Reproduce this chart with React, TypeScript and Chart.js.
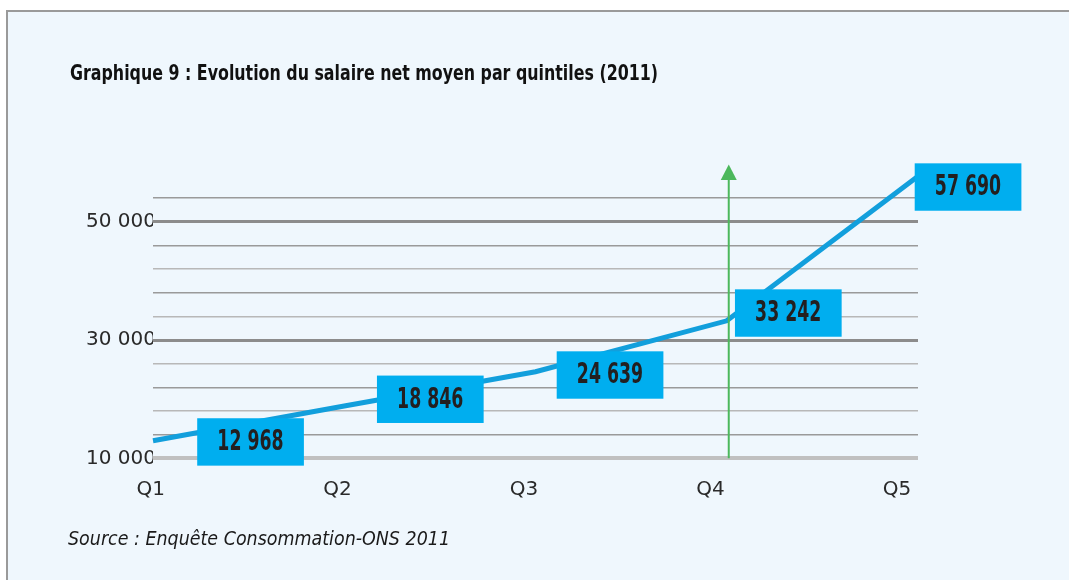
import React, { useEffect, useRef } from 'react';
import { Chart, registerables } from 'chart.js';

Chart.register(...registerables);

// ---- data ----
const xLabels = ['Q1', 'Q2', 'Q3', 'Q4', 'Q5'];
const salaries = [12968, 18846, 24639, 33242, 57690];
const yLabelValues = [10000, 30000, 50000];
const titleText = 'Graphique 9 : Evolution du salaire net moyen par quintiles (2011)';
const sourceText = 'Source : Enquête Consommation-ONS 2011';
const arrowCategory = 3; // Q4

// ---- style ----
const LABEL_OFFSETS = [
  [97.5, 1.2],
  [86, -6.7],
  [74.5, 3.3],
  [61.5, -7.8],
  [50, 10.8],
];
const CONDENSED = "'Liberation Sans Narrow', 'DejaVu Sans Condensed', 'Liberation Sans', sans-serif";
const AXIS_FONT = "'DejaVu Sans', sans-serif";
const LABEL_SQUEEZE = 0.82;

const fmt = (v: number) => String(v).replace(/\B(?=(\d{3})+(?!\d))/g, ' ');

const overlay = {
  id: 'overlay',
  afterDatasetsDraw(chart: any) {
    const ctx = chart.ctx as CanvasRenderingContext2D;
    const xs = chart.scales.x;
    const ys = chart.scales.y;
    const ca = chart.chartArea;

    ctx.save();
    ctx.font = `bold 21px ${CONDENSED}`;
    const kTitle = 588 / ctx.measureText(titleText).width;
    ctx.restore();

    // green arrow
    const ax = xs.getPixelForValue(arrowCategory) + 2;
    const bottom = ys.getPixelForValue(10000);
    const tip = ca.top - 10;
    ctx.save();
    ctx.strokeStyle = '#4cb85c';
    ctx.fillStyle = '#4cb85c';
    ctx.lineWidth = 2;
    ctx.beginPath();
    ctx.moveTo(ax, bottom);
    ctx.lineTo(ax, tip + 14);
    ctx.stroke();
    ctx.beginPath();
    ctx.moveTo(ax, tip);
    ctx.lineTo(ax - 8, tip + 15.5);
    ctx.lineTo(ax + 8, tip + 15.5);
    ctx.closePath();
    ctx.fill();
    ctx.restore();

    // value boxes
    salaries.forEach((v, i) => {
      const px = xs.getPixelForValue(i);
      const py = ys.getPixelForValue(v);
      const cx = px + LABEL_OFFSETS[i][0];
      const cy = py + LABEL_OFFSETS[i][1];
      ctx.save();
      ctx.fillStyle = '#00aeef';
      ctx.fillRect(cx - 53.3, cy - 23.7, 106.7, 47.4);
      ctx.translate(cx, cy);
      ctx.scale(kTitle * LABEL_SQUEEZE, 1);
      ctx.font = `bold 28px ${CONDENSED}`;
      ctx.fillStyle = '#231f20';
      ctx.textAlign = 'center';
      ctx.textBaseline = 'middle';
      ctx.fillText(fmt(v), 0, 1);
      ctx.restore();
    });
  },
  afterDraw(chart: any) {
    const ctx = chart.ctx as CanvasRenderingContext2D;
    ctx.save();
    ctx.fillStyle = '#111';
    ctx.textAlign = 'left';
    ctx.textBaseline = 'alphabetic';
    ctx.font = `bold 21px ${CONDENSED}`;
    const kT = 588 / ctx.measureText(titleText).width;
    ctx.save();
    ctx.translate(70, 80);
    ctx.scale(kT, 1);
    ctx.fillText(titleText, 0, 0);
    ctx.restore();

    ctx.font = `italic 19px ${CONDENSED}`;
    const kS = 382 / ctx.measureText(sourceText).width;
    ctx.save();
    ctx.translate(68, 545);
    ctx.scale(kS, 1);
    ctx.fillStyle = '#1a1a1a';
    ctx.fillText(sourceText, 0, 0);
    ctx.restore();
    ctx.restore();
  },
};

export default function App() {
  const ref = useRef<HTMLCanvasElement | null>(null);

  useEffect(() => {
    document.body.style.margin = '0';
    const canvas = ref.current;
    if (!canvas) return;
    const chart = new Chart(canvas, {
      type: 'line',
      data: {
        datasets: [
          {
            data: salaries.map((v, i) => ({ x: i, y: v })),
            borderColor: '#129fdc',
            borderWidth: 5,
            pointRadius: 0,
            tension: 0,
            clip: false as any,
            xAxisID: 'x',
            yAxisID: 'y',
          },
        ],
      },
      options: {
        animation: false,
        responsive: false,
        maintainAspectRatio: false,
        layout: { padding: { left: 0, right: 151, top: 174.4, bottom: 81.7 } },
        plugins: { legend: { display: false }, tooltip: { enabled: false }, title: { display: false } },
        scales: {
          x: { type: 'linear', min: 0, max: 4, display: false },
          x2: {
            type: 'linear',
            axis: 'x',
            position: 'bottom',
            min: 0.0115,
            max: 4.112,
            grid: { display: false, drawTicks: false },
            border: { display: false },
            afterBuildTicks: (scale: any) => {
              scale.ticks = xLabels.map((_, i) => ({ value: i }));
            },
            afterFit: (scale: any) => {
              scale.height = 40;
            },
            ticks: {
              autoSkip: false,
              maxRotation: 0,
              padding: 19,
              color: '#2a2a2a',
              font: { family: AXIS_FONT, size: 20 },
              callback: (value: any) => xLabels[Math.round(value)] ?? '',
            },
          },
          y: {
            type: 'linear',
            min: 10000,
            max: 58000,
            border: { display: false },
            afterFit: (scale: any) => {
              scale.width = 153;
            },
            grid: {
              drawTicks: false,
              color: (c: any) => {
                const v = c.tick?.value;
                if (v === 10000) return '#c0c0c0';
                if (v === 30000 || v === 50000) return '#8c8c8c';
                if (v >= 58000) return 'rgba(0,0,0,0)';
                return Math.round((v - 10000) / 4000) % 2 === 1 ? '#9a9a9a' : '#b8b8b8';
              },
              lineWidth: (c: any) => {
                const v = c.tick?.value;
                if (v === 10000) return 4;
                if (v === 30000 || v === 50000) return 3;
                return 1.5;
              },
            },
            ticks: {
              stepSize: 4000,
              autoSkip: false,
              maxTicksLimit: 30,
              padding: -3,
              color: '#2a2a2a',
              font: { family: AXIS_FONT, size: 20 },
              callback: (value: any) => (yLabelValues.includes(value) ? fmt(value) : ''),
            },
          },
        },
      },
      plugins: [overlay],
    });
    return () => chart.destroy();
  }, []);

  return (
    <div style={{ position: 'relative', width: 1069, height: 580, overflow: 'hidden', background: '#fff' }}>
      <div
        style={{
          position: 'absolute',
          left: 6,
          top: 10,
          width: 1100,
          height: 600,
          borderTop: '2px solid #9a9a9a',
          borderLeft: '2px solid #9a9a9a',
          background: '#eff7fd',
        }}
      />
      <canvas ref={ref} width={1069} height={580} style={{ position: 'absolute', left: 0, top: 0 }} />
    </div>
  );
}
